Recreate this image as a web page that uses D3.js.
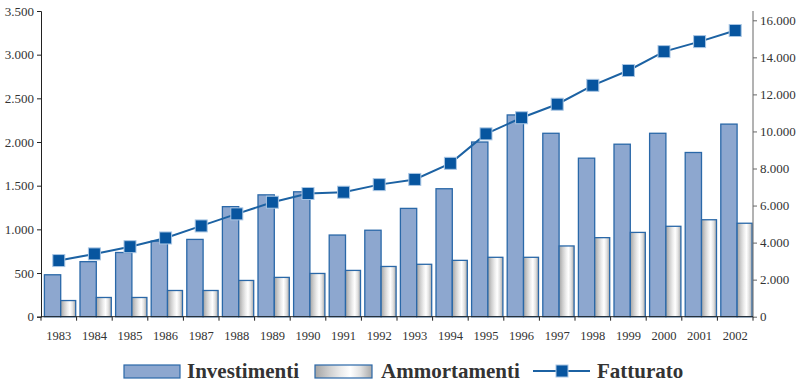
<!DOCTYPE html>
<html><head><meta charset="utf-8">
<script src="https://cdn.jsdelivr.net/npm/d3@7"></script>
<style>
html,body{margin:0;padding:0;background:#fff;}
svg{display:block;}
</style></head>
<body>
<svg id="c" width="798" height="382"></svg>
<script>
const years = ["1983","1984","1985","1986","1987","1988","1989","1990","1991","1992","1993","1994","1995","1996","1997","1998","1999","2000","2001","2002"];
const investimenti = [480,630,735,865,885,1260,1395,1430,935,990,1240,1465,2000,2310,2100,1815,1975,2100,1880,2205];
const ammortamenti = [185,220,220,300,300,415,450,495,530,575,600,645,680,680,810,905,965,1035,1110,1070];
const fatturato = [3030,3390,3780,4250,4900,5550,6180,6650,6720,7130,7410,8280,9870,10740,11470,12490,13290,14310,14850,15450];
const leftTicks = [0,500,1000,1500,2000,2500,3000,3500];
const rightTicks = [0,2000,4000,6000,8000,10000,12000,14000,16000];
const legendLabels = ["Investimenti","Ammortamenti","Fatturato"];

const fmt = v => d3.format(",")(v).replace(/,/g,".");
const svg = d3.select("#c");
const x0 = 41, x1 = 753, yBot = 316.7;
const x = d3.scaleBand().domain(years).range([x0,x1]).padding(0);
const yL = d3.scaleLinear().domain([0,3500]).range([yBot,11]);
const yR = d3.scaleLinear().domain([0,16000]).range([yBot,20.3]);

const defs = svg.append("defs");
const g = defs.append("linearGradient").attr("id","amm").attr("x1","0").attr("x2","1").attr("y1","0").attr("y2","0");
[[0,"#a4a4a4"],[0.25,"#cfcfcf"],[0.45,"#ececec"],[0.62,"#ffffff"],[0.8,"#e2e2e2"],[1,"#a8a8a8"]].forEach(s=>g.append("stop").attr("offset",s[0]).attr("stop-color",s[1]));

const font = "'Liberation Serif','Times New Roman',serif";
const bw = x.bandwidth();
const off = 3.4, wI = 16.3, wA = 15;

// bars
svg.append("g").selectAll("rect").data(years).join("rect")
  .attr("x",d=>x(d)+off).attr("width",wI)
  .attr("y",(d,i)=>yL(investimenti[i])).attr("height",(d,i)=>yBot-yL(investimenti[i]))
  .attr("fill","#8da7cf").attr("stroke","#2a68a8").attr("stroke-width",1.3);
svg.append("g").selectAll("rect").data(years).join("rect")
  .attr("x",d=>x(d)+off+wI).attr("width",wA)
  .attr("y",(d,i)=>yL(ammortamenti[i])).attr("height",(d,i)=>yBot-yL(ammortamenti[i]))
  .attr("fill","url(#amm)").attr("stroke","#2a68a8").attr("stroke-width",1.3);

// line
const line = d3.line().x((d,i)=>x(years[i])+bw/2).y(d=>yR(d));
svg.append("path").datum(fatturato).attr("d",line).attr("fill","none").attr("stroke","#1c62a3").attr("stroke-width",2);
const ms = 12;
svg.append("g").selectAll("rect").data(fatturato).join("rect")
  .attr("x",(d,i)=>x(years[i])+bw/2-ms/2).attr("y",d=>yR(d)-ms/2)
  .attr("width",ms).attr("height",ms)
  .attr("fill","#07559f").attr("stroke","#a9c6e4").attr("stroke-width",1);

// left axis
const la = svg.append("g").attr("transform",`translate(${x0},0)`)
  .call(d3.axisLeft(yL).tickValues(leftTicks).tickFormat(fmt).tickSize(4).tickPadding(3));
la.select(".domain").attr("stroke","#222");
la.selectAll(".tick line").attr("stroke","#222");
la.selectAll("text").attr("font-family",font).attr("font-size",13).attr("fill","#333");

// right axis
const ra = svg.append("g").attr("transform",`translate(${x1},0)`)
  .call(d3.axisRight(yR).tickValues(rightTicks).tickFormat(fmt).tickSize(4).tickPadding(3));
ra.select(".domain").attr("stroke","#666").attr("d",`M4,${yBot}H0V11H4`).attr("d",`M0,${yBot}V11`);
ra.selectAll(".tick line").attr("stroke","#666");
ra.selectAll("text").attr("font-family",font).attr("font-size",13).attr("fill","#333");

// x axis
svg.append("line").attr("x1",x0).attr("x2",x1).attr("y1",yBot).attr("y2",yBot).attr("stroke","#222");
const bounds = years.map(d=>x(d)).concat([x1]);
svg.append("g").selectAll("line").data(bounds).join("line")
  .attr("x1",d=>d).attr("x2",d=>d).attr("y1",yBot).attr("y2",yBot+4).attr("stroke","#222");
svg.append("g").selectAll("text").data(years).join("text")
  .attr("x",d=>x(d)+bw/2).attr("y",340).attr("text-anchor","middle")
  .attr("font-family",font).attr("font-size",12.5).attr("fill","#333").text(d=>d);

// legend
const lg = svg.append("g");
const ly = 371;
lg.append("rect").attr("x",124).attr("y",365).attr("width",56).attr("height",13).attr("fill","#8da7cf").attr("stroke","#2a68a8").attr("stroke-width",1.2);
lg.append("text").attr("x",187).attr("y",378).text(legendLabels[0]);
lg.append("rect").attr("x",315).attr("y",365).attr("width",57).attr("height",13).attr("fill","url(#amm)").attr("stroke","#2a68a8").attr("stroke-width",1.2);
lg.append("text").attr("x",381).attr("y",378).text(legendLabels[1]);
lg.append("line").attr("x1",533).attr("x2",590).attr("y1",ly).attr("y2",ly).attr("stroke","#1c62a3").attr("stroke-width",2);
lg.append("rect").attr("x",556).attr("y",ly-6).attr("width",12).attr("height",12).attr("fill","#07559f").attr("stroke","#a9c6e4").attr("stroke-width",1);
lg.append("text").attr("x",597).attr("y",378).text(legendLabels[2]);
lg.selectAll("text").attr("font-family",font).attr("font-size",21).attr("font-weight","bold").attr("fill","#333");
</script>
</body></html>
